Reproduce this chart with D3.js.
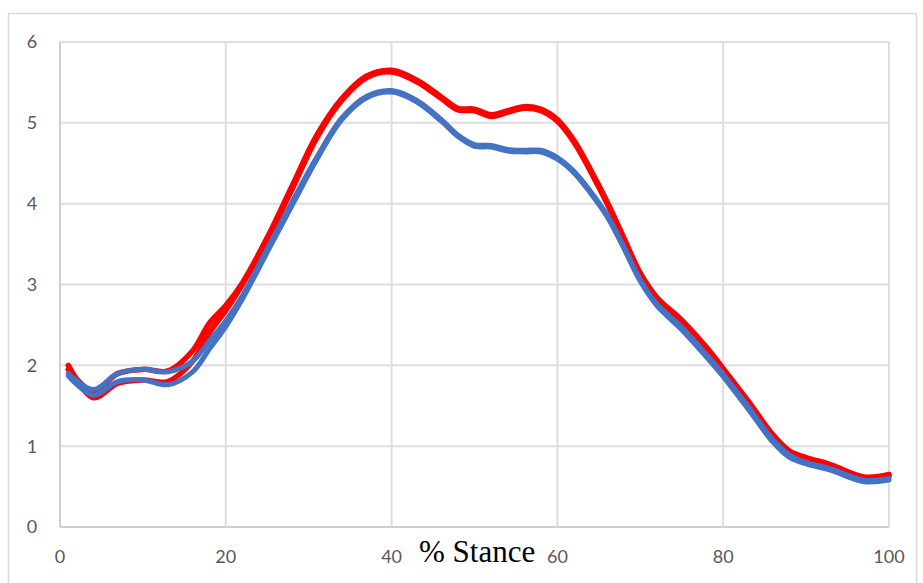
<!DOCTYPE html>
<html>
<head>
<meta charset="utf-8">
<script src="https://cdn.jsdelivr.net/npm/d3@7"></script>
<style>
  body { margin: 0; background: #fff; }
</style>
</head>
<body>
<div id="chart"></div>
<script>
// % stance values
var pct = [1,4,7,10,13,16,18,20,22,25,28,31,34,37,40,43,46,48,50,52,54,56,58,60,62,64,66,68,70,72,75,78,80,83,86,88,90,93,97,100];

// red curves (two runs)
var redA = [1.95,1.68,1.90,1.95,1.93,2.18,2.52,2.74,3.02,3.58,4.22,4.85,5.30,5.58,5.65,5.53,5.32,5.18,5.17,5.10,5.15,5.20,5.17,5.04,4.78,4.42,4.02,3.58,3.14,2.84,2.56,2.22,1.96,1.56,1.14,0.94,0.86,0.77,0.62,0.65];
var redB = [2.00,1.60,1.78,1.82,1.80,2.05,2.40,2.68,3.00,3.55,4.18,4.82,5.28,5.56,5.63,5.51,5.30,5.16,5.15,5.08,5.13,5.18,5.15,5.02,4.76,4.40,4.00,3.55,3.11,2.81,2.52,2.18,1.93,1.53,1.11,0.91,0.83,0.75,0.60,0.63];

// blue curves (two runs)
var blueA = [1.90,1.70,1.90,1.95,1.92,2.05,2.30,2.55,2.86,3.44,4.02,4.58,5.06,5.33,5.40,5.28,5.04,4.85,4.73,4.72,4.67,4.66,4.66,4.57,4.40,4.15,3.86,3.47,3.06,2.76,2.47,2.13,1.89,1.49,1.08,0.89,0.80,0.72,0.58,0.60];
var blueB = [1.87,1.63,1.80,1.82,1.76,1.92,2.20,2.48,2.82,3.40,3.98,4.55,5.04,5.31,5.38,5.26,5.02,4.83,4.71,4.70,4.65,4.64,4.64,4.55,4.38,4.13,3.84,3.45,3.04,2.74,2.44,2.10,1.86,1.46,1.05,0.86,0.78,0.70,0.56,0.58];

var xTicks = [0,20,40,60,80,100];
var yTicks = [0,1,2,3,4,5,6];

var W = 923, H = 583;
var plot = {left: 60, right: 889, top: 42, bottom: 527};

var svg = d3.select("#chart").append("svg")
  .attr("width", W)
  .attr("height", H);

// chart frame
svg.append("rect")
  .attr("x", 8.5).attr("y", 13.5)
  .attr("width", 908).attr("height", 600)
  .attr("fill", "none")
  .attr("stroke", "#d9d9d9")
  .attr("stroke-width", 1.5);

var x = d3.scaleLinear().domain([0, 100]).range([plot.left, plot.right]);
var y = d3.scaleLinear().domain([0, 6]).range([plot.bottom, plot.top]);

// gridlines
svg.append("g").selectAll("line")
  .data(yTicks)
  .enter().append("line")
    .attr("x1", plot.left).attr("x2", plot.right)
    .attr("y1", function(d) { return y(d); })
    .attr("y2", function(d) { return y(d); })
    .attr("stroke", function(d) { return d === 0 ? "#cfcfcf" : "#dedede"; })
    .attr("stroke-width", 2);

svg.append("g").selectAll("line")
  .data(xTicks)
  .enter().append("line")
    .attr("x1", function(d) { return x(d); })
    .attr("x2", function(d) { return x(d); })
    .attr("y1", plot.top).attr("y2", plot.bottom)
    .attr("stroke", function(d) { return d === 0 ? "#cfcfcf" : "#dedede"; })
    .attr("stroke-width", 2);

// tick labels
svg.append("g").selectAll("text")
  .data(yTicks)
  .enter().append("text")
    .attr("x", 32)
    .attr("y", function(d) { return y(d); })
    .attr("dy", "0.36em")
    .attr("text-anchor", "middle")
    .attr("font-family", "Lato, 'Open Sans', sans-serif")
    .attr("font-size", 18)
    .attr("fill", "#595959")
    .text(function(d) { return d; });

svg.append("g").selectAll("text")
  .data(xTicks)
  .enter().append("text")
    .attr("x", function(d) { return x(d); })
    .attr("y", 563)
    .attr("text-anchor", "middle")
    .attr("font-family", "Lato, 'Open Sans', sans-serif")
    .attr("font-size", 18)
    .attr("fill", "#595959")
    .text(function(d) { return d; });

// the four curves
var series = [
  {vals: redA, color: "#ff0000", w: 5.5},
  {vals: redB, color: "#ff0000", w: 5.5},
  {vals: blueA, color: "#4472c4", w: 5},
  {vals: blueB, color: "#4472c4", w: 5}
];

var line = d3.line()
  .x(function(d) { return x(d[0]); })
  .y(function(d) { return y(d[1]); })
  .curve(d3.curveCatmullRom);

svg.append("g").selectAll("path")
  .data(series)
  .enter().append("path")
    .attr("d", function(s) { return line(pct.map(function(p, i) { return [p, s.vals[i]]; })); })
    .attr("fill", "none")
    .attr("stroke", function(s) { return s.color; })
    .attr("stroke-width", function(s) { return s.w; })
    .attr("stroke-linejoin", "round")
    .attr("stroke-linecap", "round");

// axis title
svg.append("text")
  .attr("x", 419)
  .attr("y", 562)
  .attr("font-family", "'Liberation Serif', 'Times New Roman', serif")
  .attr("font-size", 31)
  .attr("fill", "#000")
  .text("% Stance");
</script>
</body>
</html>
